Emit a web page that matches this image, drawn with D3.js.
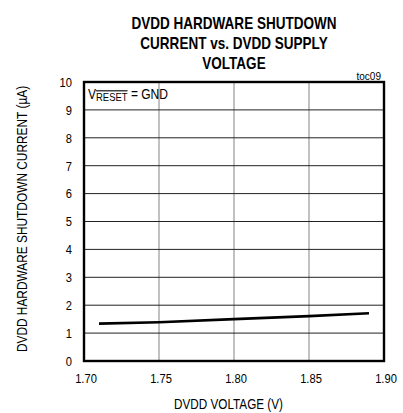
<!DOCTYPE html>
<html><head><meta charset="utf-8">
<script src="https://cdn.jsdelivr.net/npm/d3@7"></script>
<style>
body{margin:0;background:#fff;}
text{font-family:"Liberation Sans",Arial,sans-serif;}
</style></head>
<body><svg id="c" width="403" height="413"></svg>
<script>
const voltage = [1.71, 1.75, 1.80, 1.85, 1.89];
const current = [1.34, 1.39, 1.50, 1.61, 1.71];
const xTicks = [1.70, 1.75, 1.80, 1.85, 1.90];
const yTicks = [0,1,2,3,4,5,6,7,8,9,10];
const titleLines = ["DVDD HARDWARE SHUTDOWN","CURRENT vs. DVDD SUPPLY","VOLTAGE"];

const SX = 0.82; // narrow-font emulation
function squeeze(sel, sx){
  sel.each(function(){
    const t = d3.select(this);
    const x = +(t.attr("x")||0), y = +(t.attr("y")||0);
    const tr = t.attr("transform")||"";
    t.attr("transform", `${tr} translate(${x},${y}) scale(${sx},1) translate(${-x},${-y})`);
  });
}

const svg = d3.select("#c");
const L=84, R=384, T=82, B=361;
const x = d3.scaleLinear().domain([1.70,1.90]).range([L,R]);
const y = d3.scaleLinear().domain([0,10]).range([B,T]);

// title
const tt = svg.append("g").selectAll("text").data(titleLines).join("text")
  .attr("x",234).attr("y",(d,i)=>29+i*20)
  .attr("text-anchor","middle").attr("font-weight","bold").attr("font-size",16.5)
  .text(d=>d);
squeeze(tt, SX);

// vertical grid
svg.append("g").selectAll("line").data(xTicks.slice(1,-1)).join("line")
  .attr("x1",d=>x(d)).attr("x2",d=>x(d)).attr("y1",T).attr("y2",B)
  .attr("stroke","#a0a0a0").attr("stroke-width",1.3);
// horizontal grid
svg.append("g").selectAll("line").data(yTicks.slice(1,-1)).join("line")
  .attr("x1",L).attr("x2",R).attr("y1",d=>y(d)).attr("y2",d=>y(d))
  .attr("stroke","#222").attr("stroke-width",1);

// axes labels
const xa = svg.append("g").attr("transform",`translate(0,${B})`)
  .call(d3.axisBottom(x).tickValues(xTicks).tickFormat(d3.format(".2f")).tickSize(0).tickPadding(12.5));
xa.select(".domain").remove();
xa.selectAll("text").attr("font-size",13.6).attr("fill","#000").attr("font-family",null).attr("x",1.5);
squeeze(xa.selectAll("text"), SX);
const ya = svg.append("g").attr("transform",`translate(${L},0)`)
  .call(d3.axisLeft(y).tickValues(yTicks).tickFormat(d3.format("d")).tickSize(0).tickPadding(12));
ya.select(".domain").remove();
ya.selectAll("text").attr("font-size",13.6).attr("fill","#000").attr("font-family",null);
squeeze(ya.selectAll("text"), SX);

// frame
svg.append("rect").attr("x",L).attr("y",T).attr("width",R-L).attr("height",B-T)
  .attr("fill","none").attr("stroke","#000").attr("stroke-width",2.4);

// data line
svg.append("path").datum(voltage.map((v,i)=>[v,current[i]]))
  .attr("d",d3.line().x(d=>x(d[0])).y(d=>y(d[1])))
  .attr("fill","none").attr("stroke","#000").attr("stroke-width",2.6);

// annotation
const ann = svg.append("text").attr("x",88).attr("y",99).attr("font-size",14);
ann.append("tspan").text("V");
ann.append("tspan").attr("dy",2).attr("font-size",11).attr("text-decoration","overline").text("RESET");
ann.append("tspan").attr("dy",-2).text(" = GND");
squeeze(ann, 0.86);

const toc = svg.append("text").attr("x",381).attr("y",80).attr("text-anchor","end").attr("font-size",10).text("toc09");

// axis titles
const xt = svg.append("text").attr("x",228.5).attr("y",409).attr("text-anchor","middle").attr("font-size",14.3).text("DVDD VOLTAGE (V)");
squeeze(xt, SX);
const yt = svg.append("text").attr("transform","translate(27,219) rotate(-90)").attr("text-anchor","middle").attr("font-size",14.5)
  .text("DVDD HARDWARE SHUTDOWN CURRENT (\u00b5A)");
squeeze(yt, SX);
</script></body></html>
